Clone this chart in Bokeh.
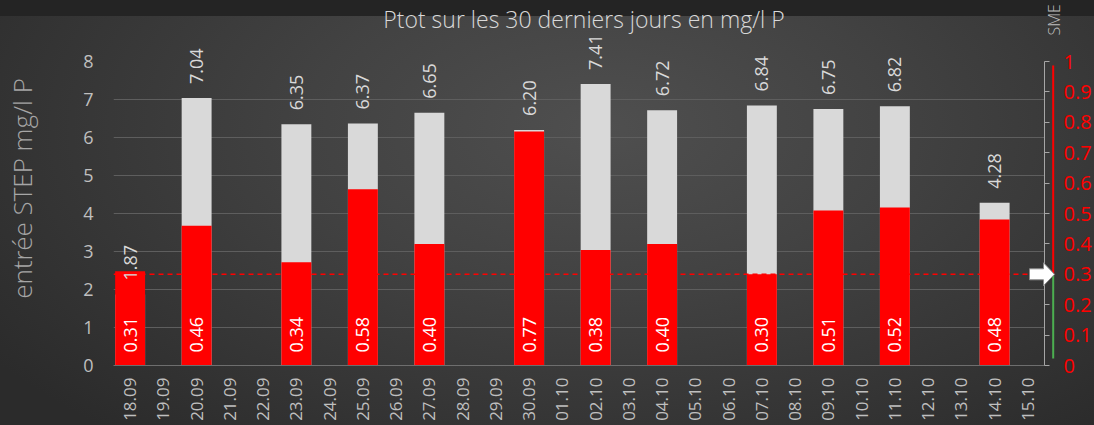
import numpy as np
from bokeh.plotting import figure
from bokeh.models import Range1d, LinearAxis, FixedTicker, Span
from bokeh.core.properties import value
from bokeh.embed import file_html
from bokeh.resources import INLINE

# ---------------- data ----------------
dates = ["18.09", "19.09", "20.09", "21.09", "22.09", "23.09", "24.09", "25.09",
         "26.09", "27.09", "28.09", "29.09", "30.09", "01.10", "02.10", "03.10",
         "04.10", "05.10", "06.10", "07.10", "08.10", "09.10", "10.10", "11.10",
         "12.10", "13.10", "14.10", "15.10"]
measure_dates = ["18.09", "20.09", "23.09", "25.09", "27.09", "30.09",
                 "02.10", "04.10", "07.10", "09.10", "11.10", "14.10"]
entree = [1.87, 7.04, 6.35, 6.37, 6.65, 6.20, 7.41, 6.72, 6.84, 6.75, 6.82, 4.28]
sme = [0.31, 0.46, 0.34, 0.58, 0.40, 0.77, 0.38, 0.40, 0.30, 0.51, 0.52, 0.48]
sme_limit = 0.3
left_ticks = [0, 1, 2, 3, 4, 5, 6, 7, 8]
right_ticks = [0.0, 0.1, 0.2, 0.3, 0.4, 0.5, 0.6, 0.7, 0.8, 0.9, 1.0]
right_labels = ["0", "0.1", "0.2", "0.3", "0.4", "0.5", "0.6", "0.7", "0.8", "0.9", "1"]
title_text = "Ptot sur les 30 derniers jours en mg/l P"
left_label = "entrée STEP mg/l P"
right_label = "SME"

# ---------------- styling ----------------
FONT_S = "'Segoe UI', 'Open Sans', sans-serif"
LIGHT_S = ("'Segoe UI Light', 'Open Sans Light', 'Lato Light', 'Roboto Light', "
           "'Noto Sans Light', 'Inter Light', 'Open Sans', sans-serif")
FONT = value(FONT_S)
LIGHT = value(LIGHT_S)
GREY_TXT = "#bfbfbf"
BAR_GREY = "#d9d9d9"
RED = "#ff0000"

x_idx = [dates.index(d) for d in measure_dates]
n = len(dates)

W, H = 1094, 425
FL, FT, FW, FH = 113, 61, 931, 304

p = figure(width=W, height=H,
           x_range=Range1d(-0.5, n - 0.5), y_range=Range1d(0, 8),
           output_backend="svg", toolbar_location=None,
           min_border_left=FL, min_border_right=W - FL - FW,
           min_border_top=FT, min_border_bottom=H - FT - FH)
p.extra_y_ranges = {"sme": Range1d(0, 1)}

p.background_fill_alpha = 0
p.border_fill_alpha = 0
p.outline_line_color = None
p.styles = {
    "background": "linear-gradient(to bottom, #242424 0px, #242424 16px, rgba(0,0,0,0) 16px), "
                  "radial-gradient(ellipse 68% 95% at 55% 30%, #4f4f4f 0%, #424242 40%, #2b2b2b 100%)"
}

# grid
p.xgrid.visible = False
p.ygrid.ticker = FixedTicker(ticks=left_ticks)
p.ygrid.grid_line_color = "#5e5e5e"
p.ygrid.grid_line_width = 1

# left axis
ya = p.yaxis[0]
ya.ticker = FixedTicker(ticks=left_ticks)
ya.axis_line_color = None
ya.major_tick_line_color = None
ya.minor_tick_line_color = None
ya.major_tick_out = 0
ya.major_tick_in = 0
ya.major_label_standoff = 20
ya.major_label_text_color = GREY_TXT
ya.major_label_text_font_size = "18px"
ya.major_label_text_font = FONT_S

# bottom axis
xa = p.xaxis[0]
xa.ticker = FixedTicker(ticks=list(range(n)))
xa.major_label_overrides = {i: d for i, d in enumerate(dates)}
xa.major_label_orientation = np.pi / 2
xa.axis_line_color = "#6e6e6e"
xa.major_tick_line_color = None
xa.minor_tick_line_color = None
xa.major_tick_out = 0
xa.major_tick_in = 0
xa.major_label_standoff = 12
xa.major_label_text_color = GREY_TXT
xa.major_label_text_font_size = "17px"
xa.major_label_text_font = FONT_S

# right axis
ra = LinearAxis(y_range_name="sme", ticker=FixedTicker(ticks=right_ticks),
                major_label_overrides={t: l for t, l in zip(right_ticks, right_labels)})
ra.axis_line_color = "#a6a6a6"
ra.major_tick_line_color = "#a6a6a6"
ra.minor_tick_line_color = None
ra.major_tick_out = 5
ra.major_tick_in = 0
ra.major_label_standoff = 14
ra.major_label_text_color = RED
ra.major_label_text_font_size = "20px"
ra.major_label_text_font = FONT_S
p.add_layout(ra, "right")

# bars
p.vbar(x=x_idx, top=entree, bottom=0, width=0.9, fill_color=BAR_GREY, line_color=None)
p.vbar(x=x_idx, top=sme, bottom=0, width=0.9, fill_color=RED, line_color=None,
       y_range_name="sme")

# threshold line
p.add_layout(Span(location=sme_limit, dimension="width", y_range_name="sme",
                  line_color=RED, line_dash="5 4", line_width=1.5))

# value labels
p.text(x=x_idx, y=entree, text=[f"{v:.2f}" for v in entree], angle=np.pi / 2,
       text_align="left", text_baseline="middle", y_offset=-14,
       text_color=BAR_GREY, text_font_size="18px", text_font=FONT, level="overlay")
p.text(x=x_idx, y=[0] * len(sme), text=[f"{v:.2f}" for v in sme], angle=np.pi / 2,
       text_align="left", text_baseline="middle", y_offset=-13,
       text_color="white", text_font_size="18px", text_font=FONT, y_range_name="sme",
       level="overlay")

# right side indicator: red / green line and arrow
px_per_x = FW / n
px_per_y = float(FH)
xr = n - 0.5
line_x = xr + 8.7 / px_per_x
p.segment(x0=[line_x], y0=[sme_limit], x1=[line_x], y1=[0.987], y_range_name="sme",
          line_color=RED, line_width=2, level="overlay")
p.segment(x0=[line_x], y0=[0.023], x1=[line_x], y1=[sme_limit], y_range_name="sme",
          line_color="#4caf50", line_width=2, level="overlay")
ax_px = [-15, -1, -1, 10, -1, -1, -15]
ay_px = [-5.5, -5.5, -11.5, 0, 11.5, 5.5, 5.5]
p.patch(x=[xr + a / px_per_x for a in ax_px], y=[sme_limit + b / px_per_y for b in ay_px],
        y_range_name="sme", fill_color="white", line_color="#8a8a8a", line_width=1,
        level="overlay")

# texts (title, axis titles)
p.text(x=[(n - 1) / 2], y=[8], text=[title_text], x_offset=5, y_offset=-43,
       text_align="center", text_baseline="alphabetic",
       text_color="#d9d9d9", text_font_size="23px", text_font=LIGHT, level="overlay")
p.text(x=[-0.5], y=[4.66], text=[left_label], x_offset=-91.5, angle=np.pi / 2,
       text_align="center", text_baseline="middle",
       text_color="#a6a6a6", text_font_size="26px", text_font=LIGHT, level="overlay")
p.text(x=[xr], y=[1], text=[right_label], x_offset=9.5, y_offset=-26, angle=np.pi / 2,
       y_range_name="sme", text_align="left", text_baseline="middle",
       text_color=GREY_TXT, text_font_size="16px", text_font=LIGHT, level="overlay")

open("out.html", "w").write(file_html(p, INLINE))
